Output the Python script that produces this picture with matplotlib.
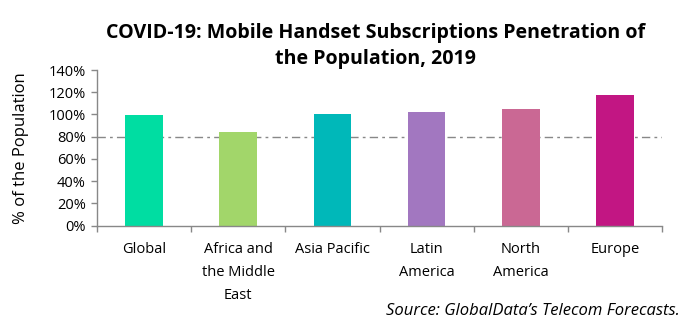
import matplotlib
matplotlib.use("Agg")
import matplotlib.pyplot as plt
import numpy as np
from matplotlib.ticker import FixedLocator, PercentFormatter

categories = ["Global", "Africa and\nthe Middle\nEast", "Asia Pacific", "Latin\nAmerica", "North\nAmerica", "Europe"]
values = [99.5, 84, 100.3, 102, 104.8, 117.5]
colors = ["#00DDA2", "#A2D66A", "#00B8B9", "#A277C0", "#CA6894", "#C21683"]
threshold = 80
yticks = [0, 20, 40, 60, 80, 100, 120, 140]

plt.rcParams['font.family'] = ['Open Sans', 'DejaVu Sans']

fig = plt.figure(figsize=(6.98, 3.27), dpi=100)
ax = fig.add_axes([97/698, 1 - 225.7/327, (662-97)/698, (225.7-70)/327])

x = np.arange(len(categories))
ax.bar(x, values, width=0.4, color=colors, zorder=2)
ax.axhline(threshold, color="#888888", linestyle=(0, (6, 3, 2, 3)), linewidth=1, zorder=1)

ax.set_xlim(-0.5, len(categories) - 0.5)
ax.set_ylim(0, 140)
ax.set_yticks(yticks)
ax.yaxis.set_major_formatter(PercentFormatter(decimals=0))
ax.set_xticks(x)
ax.set_xticklabels(categories, fontsize=10.5, linespacing=1.7, va="top")
ax.tick_params(axis="x", which="major", length=0, pad=12)
ax.xaxis.set_minor_locator(FixedLocator(np.arange(len(categories) + 1) - 0.5))
ax.tick_params(axis="x", which="minor", length=4, color="#888888", width=1)
ax.tick_params(axis="y", length=4, color="#888888", width=1, labelsize=10.5, pad=4)

for s in ["top", "right"]:
    ax.spines[s].set_visible(False)
for s in ["left", "bottom"]:
    ax.spines[s].set_color("#888888")
    ax.spines[s].set_linewidth(1)

ax.set_ylabel("% of the Population", fontsize=12, labelpad=14)

fig.text(0.538, 1 - 46/327, "COVID-19: Mobile Handset Subscriptions Penetration of\nthe Population, 2019",
         ha="center", va="center", fontsize=14.1, fontweight="bold", linespacing=1.45)
fig.text(680/698, 1 - 311/327, "Source: GlobalData\u2019s Telecom Forecasts.", ha="right", va="center",
         fontsize=12, style="italic")

fig.savefig("out.png", dpi=100)
